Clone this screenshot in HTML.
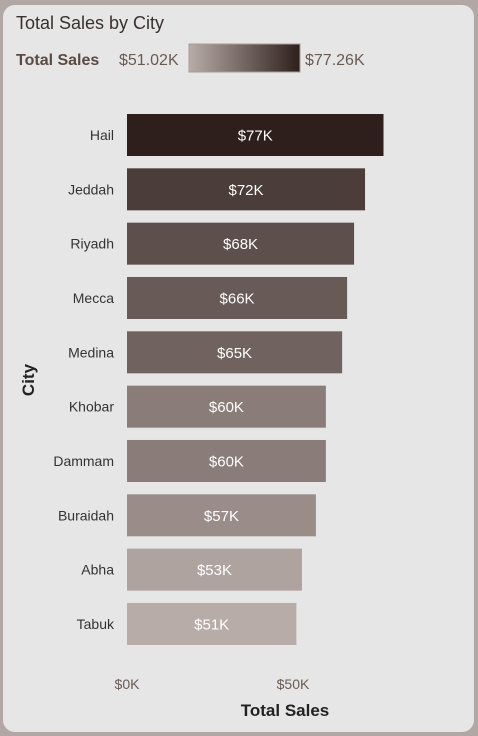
<!DOCTYPE html>
<html><head><meta charset="utf-8"><style>
html,body{margin:0;padding:0;width:478px;height:736px;background:#b1a8a6;overflow:hidden;font-family:"Liberation Sans",sans-serif}
#card{position:absolute;left:3px;top:5px;width:471px;height:727px;background:#e6e6e6;border-radius:12px}
</style></head><body>
<div id="card"></div>
<svg id="chart" width="478" height="736" style="position:absolute;left:0;top:0">
<defs><linearGradient id="lg" x1="0" x2="1"><stop offset="0" stop-color="#b8aca8"/><stop offset="1" stop-color="#2e1f1c"/></linearGradient></defs>
<text x="16" y="29" font-size="18" fill="#3a3030">Total Sales by City</text>
<text x="16" y="65" font-size="16" font-weight="bold" fill="#5a4a44">Total Sales</text>
<text x="119" y="65" font-size="16" fill="#6a5a54">$51.02K</text>
<rect x="189" y="44" width="111" height="28" fill="url(#lg)" stroke="#a89c98"/>
<text x="305" y="65" font-size="16" fill="#6a5a54">$77.26K</text>
<text transform="translate(34,380) rotate(-90)" text-anchor="middle" font-size="17" font-weight="bold" fill="#222">City</text>
<text x="285" y="716" text-anchor="middle" font-size="17" font-weight="bold" fill="#222">Total Sales</text>
<g id="bars"></g><g id="ticks"></g>
</svg>
<script>
const cities=["Hail","Jeddah","Riyadh","Mecca","Medina","Khobar","Dammam","Buraidah","Abha","Tabuk"];
const sales=[77.26,71.7,68.4,66.3,64.8,59.9,59.9,56.9,52.7,51.02];
const labels=["$77K","$72K","$68K","$66K","$65K","$60K","$60K","$57K","$53K","$51K"];
const ticks=[0,50];
const tickLabels=["$0K","$50K"];
const ns="http://www.w3.org/2000/svg";
const x=v=>127+v*3.32;
const y=i=>114+i*54.33;
const bh=42;
const mn=Math.min(...sales),mx=Math.max(...sales);
function col(v){const t=(v-mn)/(mx-mn);const a=[184,172,168],b=[46,31,28];return `rgb(${a.map((c,k)=>Math.round(c+(b[k]-c)*t)).join(',')})`;}
const g=document.getElementById('bars');
cities.forEach((c,i)=>{
 const r=document.createElementNS(ns,'rect');
 r.setAttribute('x',x(0));r.setAttribute('y',y(i));r.setAttribute('width',x(sales[i])-x(0));r.setAttribute('height',bh);r.setAttribute('fill',col(sales[i]));
 
 
 g.appendChild(r);
 const l=document.createElementNS(ns,'text');
 l.setAttribute('x',x(sales[i])/2+x(0)/2);l.setAttribute('y',y(i)+bh/2+5.5);l.setAttribute('text-anchor','middle');l.setAttribute('font-size','15');l.setAttribute('fill','#fff');l.textContent=labels[i];
 
 
 g.appendChild(l);
 const cl=document.createElementNS(ns,'text');
 cl.setAttribute('x',114);cl.setAttribute('y',y(i)+bh/2+5);cl.setAttribute('text-anchor','end');cl.setAttribute('font-size','14');cl.setAttribute('fill','#333');cl.textContent=c;
 
 
 g.appendChild(cl);
});
const tg=document.getElementById('ticks');
ticks.forEach((t,i)=>{
 const e=document.createElementNS(ns,'text');
 e.setAttribute('x',x(t));e.setAttribute('y',689);e.setAttribute('text-anchor','middle');e.setAttribute('font-size','14');e.setAttribute('fill','#6a5a54');e.textContent=tickLabels[i];
 
 
 tg.appendChild(e);
});
</script>
</body></html>
